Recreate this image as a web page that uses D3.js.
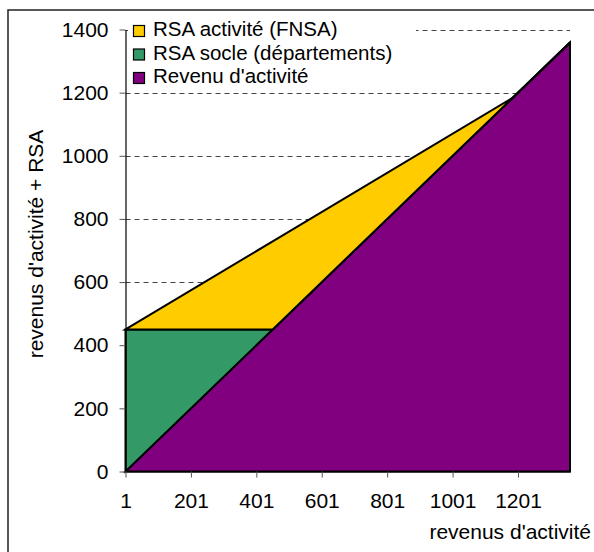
<!DOCTYPE html>
<html>
<head>
<meta charset="utf-8">
<script src="https://cdn.jsdelivr.net/npm/d3@7"></script>
<style>
  body { margin: 0; background: #fff; }
  svg { display: block; font-family: Arial, "Liberation Sans", sans-serif; }
</style>
</head>
<body>
<div id="chart"></div>
<script>
// breakpoints of the piecewise linear series (revenus d'activité, in €)
const categories = [1, 451, 1185, 1360];
const revenuActivite = [0, 450, 1184, 1359];
const rsaSocle = [450, 0, 0, 0];
const rsaActivite = [0, 279, 0, 0];

const xTicks = [1, 201, 401, 601, 801, 1001, 1201];
const yTicks = [0, 200, 400, 600, 800, 1000, 1200, 1400];

const series = [
  { key: 'revenu', label: "Revenu d'activité", color: '#800080', values: revenuActivite },
  { key: 'socle', label: 'RSA socle (départements)', color: '#339966', values: rsaSocle },
  { key: 'activite', label: 'RSA activité (FNSA)', color: '#FFCC00', values: rsaActivite }
];

const width = 594, height = 552;
const svg = d3.select('#chart').append('svg')
  .attr('width', width)
  .attr('height', height);

// outer frame (only left/top visible in the crop)
svg.append('rect')
  .attr('x', 8).attr('y', 10)
  .attr('width', 620).attr('height', 600)
  .attr('fill', '#fff')
  .attr('stroke', '#222')
  .attr('stroke-width', 1.5);

const x = d3.scaleLinear().domain([1, 1360]).range([125.5, 570]);
const y = d3.scaleLinear().domain([0, 1400]).range([471.5, 29.5]);

// gridlines
const grid = svg.append('g');
grid.selectAll('line')
  .data(yTicks.filter(d => d > 0))
  .join('line')
  .attr('x1', x(1)).attr('x2', 570)
  .attr('y1', d => Math.round(y(d)) + 0.5)
  .attr('y2', d => Math.round(y(d)) + 0.5)
  .attr('stroke', '#444')
  .attr('stroke-width', 1)
  .attr('stroke-dasharray', '5,4');

// stacked areas
const rows = categories.map((c, i) => {
  const r = { cat: c };
  series.forEach(s => { r[s.key] = s.values[i]; });
  return r;
});
const stack = d3.stack().keys(series.map(s => s.key));
const stacked = stack(rows);

const area = d3.area()
  .x(d => x(d.data.cat))
  .y0(d => y(d[0]))
  .y1(d => y(d[1]));

svg.append('g')
  .selectAll('path')
  .data(stacked)
  .join('path')
  .attr('d', area)
  .attr('fill', (d, i) => series[i].color)
  .attr('stroke', '#000')
  .attr('stroke-width', 2)
  .attr('stroke-linejoin', 'miter');

// axes
const yAxis = svg.append('g')
  .attr('transform', `translate(${x(1)},0)`)
  .call(d3.axisLeft(y).tickValues(yTicks).tickFormat(d3.format('d'))
    .tickSize(6).tickSizeOuter(0).tickPadding(11));
const xAxis = svg.append('g')
  .attr('transform', `translate(0,${y(0)})`)
  .call(d3.axisBottom(x).tickValues(xTicks).tickFormat(d3.format('d'))
    .tickSize(6).tickSizeOuter(0).tickPadding(11));

[yAxis, xAxis].forEach(a => {
  a.select('.domain').attr('stroke', '#000').attr('stroke-width', 1.2);
  a.selectAll('.tick line').attr('stroke', '#555');
  a.selectAll('.tick text')
    .attr('fill', '#000')
    .style('font-size', '21px')
    .style('font-family', 'Arial, "Liberation Sans", sans-serif');
});
xAxis.selectAll('.tick text').attr('dy', '0.95em');

// axis titles
svg.append('text')
  .attr('x', 591).attr('y', 539)
  .attr('text-anchor', 'end')
  .style('font-size', '21px')
  .text("revenus d'activité");

svg.append('text')
  .attr('transform', 'translate(43,244) rotate(-90)')
  .attr('text-anchor', 'middle')
  .style('font-size', '21px')
  .text("revenus d'activité + RSA");

// legend
const legend = svg.append('g');
legend.append('rect')
  .attr('x', 128).attr('y', 17)
  .attr('width', 288).attr('height', 72)
  .attr('fill', '#fff');

const legendItems = series.slice().reverse();
legendItems.forEach((s, i) => {
  const g = legend.append('g')
    .attr('transform', `translate(133, ${36 + i * 23.5})`);
  g.append('rect')
    .attr('x', 0.5).attr('y', -10.5)
    .attr('width', 11).attr('height', 11)
    .attr('fill', s.color)
    .attr('stroke', '#000')
    .attr('stroke-width', 1.2);
  g.append('text')
    .attr('x', 20).attr('y', 0)
    .style('font-size', '20.5px')
    .text(s.label);
});
</script>
</body>
</html>
